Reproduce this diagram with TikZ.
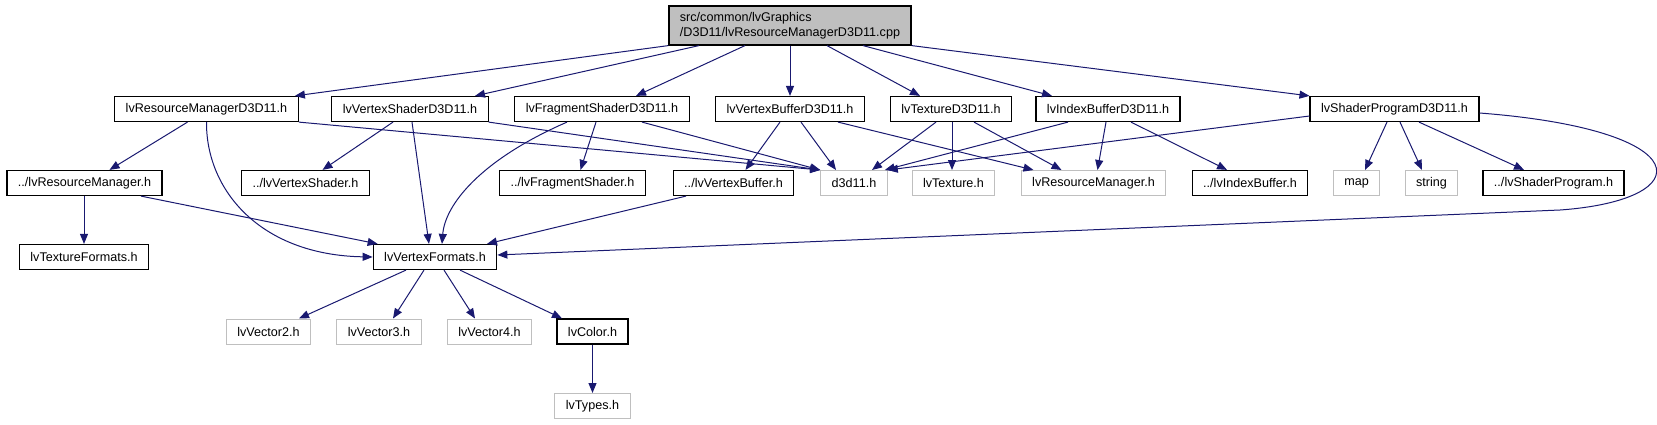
\documentclass[tikz,border=0pt]{standalone}
\usepackage{fontspec}
\setmainfont{Liberation Sans}
\usetikzlibrary{arrows.meta}
\definecolor{edgeblue}{HTML}{191970}

\begin{document}
\begin{tikzpicture}[x=1pt,y=-1pt,font=\fontsize{12.6}{15}\selectfont,
  hdr/.style={draw=black,line width=1.2pt,fill=white,minimum height=25pt,inner xsep=11pt,inner ysep=0pt},
  ext/.style={hdr,draw=gray!50,line width=1pt},
  cur/.style={hdr,fill=gray!50,align=left,minimum height=39pt},
  dep/.style={edgeblue,line width=1pt,-{Triangle[length=10pt,width=8pt]}}]
\useasboundingbox (0,0) rectangle (1657,425);
% file being documented
\node[cur] (root) at (790,25.5) {src/common/lvGraphics\\/D3D11/lvResourceManagerD3D11.cpp};
% direct includes
\node[hdr] (rmd) at (206.5,109) {lvResourceManagerD3D11.h};
\node[hdr] (vsd) at (410,109) {lvVertexShaderD3D11.h};
\node[hdr] (fsd) at (602,109) {lvFragmentShaderD3D11.h};
\node[hdr] (vbd) at (790,109) {lvVertexBufferD3D11.h};
\node[hdr] (txd) at (951,109) {lvTextureD3D11.h};
\node[hdr] (ibd) at (1108,109) {lvIndexBufferD3D11.h};
\node[hdr] (spd) at (1394.5,109) {lvShaderProgramD3D11.h};
% second level
\node[hdr] (rm) at (84.5,183) {../lvResourceManager.h};
\node[hdr] (vs) at (305.5,183) {../lvVertexShader.h};
\node[hdr] (fs) at (572.5,183) {../lvFragmentShader.h};
\node[hdr] (vb) at (733.5,183) {../lvVertexBuffer.h};
\node[ext] (d3d) at (854,183) {d3d11.h};
\node[ext] (tx) at (953.5,183) {lvTexture.h};
\node[ext] (rmg) at (1093.5,183) {lvResourceManager.h};
\node[hdr] (ib) at (1250,183) {../lvIndexBuffer.h};
\node[ext] (map) at (1356.5,183) {map};
\node[ext] (str) at (1431.5,183) {string};
\node[hdr] (sp) at (1553.5,183) {../lvShaderProgram.h};
% third level and below
\node[hdr] (tf) at (84,257) {lvTextureFormats.h};
\node[hdr] (vf) at (435,257) {lvVertexFormats.h};
\node[ext] (v2) at (268.5,331.5) {lvVector2.h};
\node[ext] (v3) at (379,331.5) {lvVector3.h};
\node[ext] (v4) at (489.5,331.5) {lvVector4.h};
\node[hdr] (col) at (592.5,331.5) {lvColor.h};
\node[ext] (typ) at (592.5,406) {lvTypes.h};
% edges from the .cpp
\draw[dep] (root.south west) -- ([xshift=-4pt]rmd.north east);
\draw[dep] ([xshift=-91pt]root.south) -- ([xshift=65pt]vsd.north);
\draw[dep] ([xshift=-45pt]root.south) -- ([xshift=34pt]fsd.north);
\draw[dep] (root.south) -- (vbd.north);
\draw[dep] ([xshift=37pt]root.south) -- ([xshift=-31pt]txd.north);
\draw[dep] ([xshift=73pt]root.south) -- ([xshift=-56pt]ibd.north);
\draw[dep] (root.south east) -- (spd.north west);
% lvResourceManagerD3D11.h
\draw[dep] ([xshift=-19pt]rmd.south) -- ([xshift=25pt]rm.north);
\draw[dep] (rmd.south) .. controls (206,190) and (260,255) .. (vf.west);
\draw[dep] (rmd.south east) -- (d3d.north west);
% lvVertexShaderD3D11.h
\draw[dep] ([xshift=-17pt]vsd.south) -- ([xshift=17pt]vs.north);
\draw[dep] ([xshift=2pt]vsd.south) -- ([xshift=-6pt]vf.north);
\draw[dep] (vsd.south east) -- (d3d.north west);
% lvFragmentShaderD3D11.h
\draw[dep] ([xshift=-6pt]fsd.south) -- ([xshift=8pt]fs.north);
\draw[dep] ([xshift=-35pt]fsd.south) .. controls (480,160) and (445,205) .. ([xshift=7pt]vf.north);
\draw[dep] ([xshift=40pt]fsd.south) -- (d3d.north west);
% lvVertexBufferD3D11.h
\draw[dep] ([xshift=-10pt]vbd.south) -- ([xshift=12pt]vb.north);
\draw[dep] ([xshift=11pt]vbd.south) -- ([xshift=-18pt]d3d.north);
\draw[dep] ([xshift=48pt]vbd.south) -- ([xshift=-60pt]rmg.north);
% lvTextureD3D11.h
\draw[dep] ([xshift=-15pt]txd.south) -- ([xshift=18pt]d3d.north);
\draw[dep] ([xshift=1pt]txd.south) -- ([xshift=-1.5pt]tx.north);
\draw[dep] ([xshift=23pt]txd.south) -- ([xshift=-32pt]rmg.north);
% lvIndexBufferD3D11.h
\draw[dep] ([xshift=-40pt]ibd.south) -- ([xshift=-3pt]d3d.north east);
\draw[dep] ([xshift=-2pt]ibd.south) -- ([xshift=4pt]rmg.north);
\draw[dep] ([xshift=23pt]ibd.south) -- ([xshift=-23pt]ib.north);
% lvShaderProgramD3D11.h
\draw[dep] ([yshift=-7pt]spd.west) -- (d3d.north east);
\draw[dep] ([xshift=-7.5pt]spd.south) -- ([xshift=8.5pt]map.north);
\draw[dep] ([xshift=5.5pt]spd.south) -- ([xshift=-9.5pt]str.north);
\draw[dep] ([xshift=24.5pt]spd.south) -- ([xshift=-29.5pt]sp.north);
\draw[dep] ([yshift=-4pt]spd.east) .. controls (1700,130) and (1700,200) .. (1560,210) -- ([yshift=2pt]vf.east);
% lower levels
\draw[dep] ([xshift=-0.5pt]rm.south) -- (tf.north);
\draw[dep] ([xshift=56.5pt]rm.south) -- ([xshift=5pt]vf.north west);
\draw[dep] ([xshift=-47.5pt]vb.south) -- ([xshift=52pt]vf.north);
\draw[dep] ([xshift=-29pt]vf.south) -- ([xshift=30.5pt]v2.north);
\draw[dep] ([xshift=-11pt]vf.south) -- ([xshift=14pt]v3.north);
\draw[dep] ([xshift=9pt]vf.south) -- ([xshift=-14.5pt]v4.north);
\draw[dep] ([xshift=25pt]vf.south) -- ([xshift=-30.5pt]col.north);
\draw[dep] (col.south) -- (typ.north);
\end{tikzpicture}
\end{document}
